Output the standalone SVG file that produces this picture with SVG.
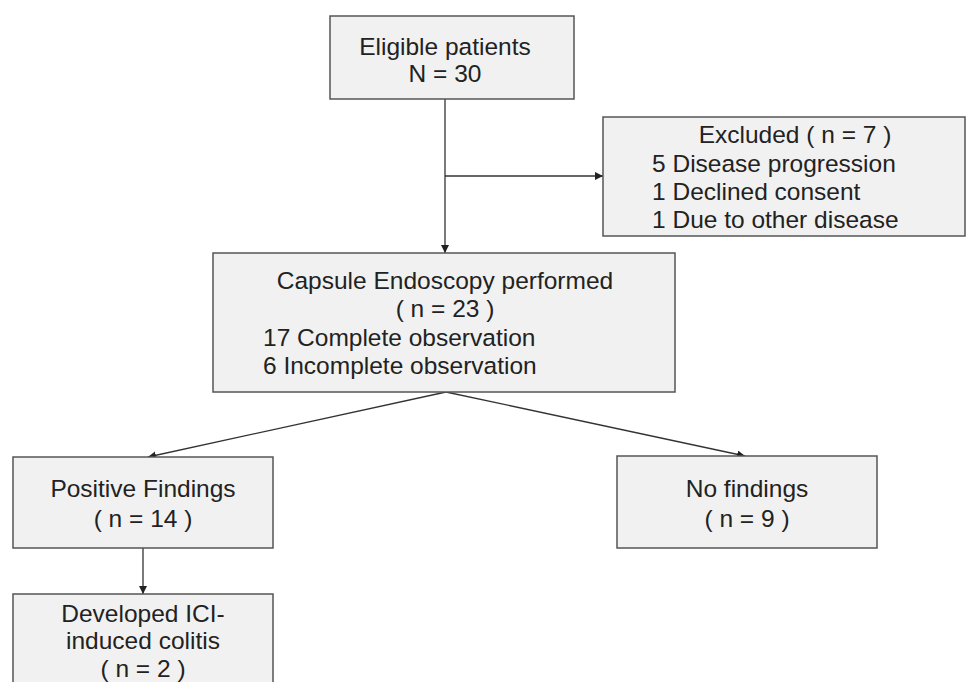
<svg xmlns="http://www.w3.org/2000/svg" width="976" height="682" viewBox="0 0 976 682">
<defs>
<marker id="arr" viewBox="0 0 10 10" refX="10" refY="5" markerWidth="8" markerHeight="8" markerUnits="userSpaceOnUse" orient="auto">
<path d="M0,0 L10,5 L0,10 z" fill="#222"/>
</marker>
<style>
.box{fill:#f1f1f1;stroke:#555;stroke-width:1.5}
.t{font-family:"Liberation Sans",Arial,sans-serif;font-size:24.5px;fill:#222}
.c{text-anchor:middle}
.ln{stroke:#333;stroke-width:1.3;fill:none}
</style>
</defs>
<rect width="976" height="682" fill="#fff"/>
<g id="connectors">
<line class="ln" x1="445" y1="99" x2="445" y2="253" marker-end="url(#arr)"/>
<line class="ln" x1="445" y1="176" x2="603" y2="176" marker-end="url(#arr)"/>
<line class="ln" x1="446" y1="392" x2="148" y2="457" marker-end="url(#arr)"/>
<line class="ln" x1="446" y1="392" x2="745" y2="456" marker-end="url(#arr)"/>
<line class="ln" x1="143" y1="548" x2="143" y2="594" marker-end="url(#arr)"/>
</g>
<g id="eligible">
<rect class="box" x="330" y="16" width="244" height="83"/>
<text class="t c" x="445" y="55">Eligible patients</text>
<text class="t c" x="445" y="82">N = 30</text>
</g>
<g id="excluded">
<rect class="box" x="603" y="117" width="362" height="119"/>
<text class="t c" x="795" y="143">Excluded ( n = 7 )</text>
<text class="t" x="652" y="172">5 Disease progression</text>
<text class="t" x="652" y="200">1 Declined consent</text>
<text class="t" x="652" y="228">1 Due to other disease</text>
</g>
<g id="capsule">
<rect class="box" x="213" y="253" width="462" height="139"/>
<text class="t c" x="445" y="289">Capsule Endoscopy performed</text>
<text class="t c" x="445" y="317">( n = 23 )</text>
<text class="t" x="263" y="346">17 Complete observation</text>
<text class="t" x="263" y="374">6 Incomplete observation</text>
</g>
<g id="positive">
<rect class="box" x="13" y="457" width="260" height="91"/>
<text class="t c" x="143" y="497">Positive Findings</text>
<text class="t c" x="143" y="527">( n = 14 )</text>
</g>
<g id="nofindings">
<rect class="box" x="617" y="456" width="260" height="92"/>
<text class="t c" x="747" y="497">No findings</text>
<text class="t c" x="747" y="527">( n = 9 )</text>
</g>
<g id="colitis">
<rect class="box" x="13" y="594" width="260" height="100"/>
<text class="t c" x="143" y="622">Developed ICI-</text>
<text class="t c" x="143" y="649">induced colitis</text>
<text class="t c" x="143" y="677">( n = 2 )</text>
</g>
</svg>
